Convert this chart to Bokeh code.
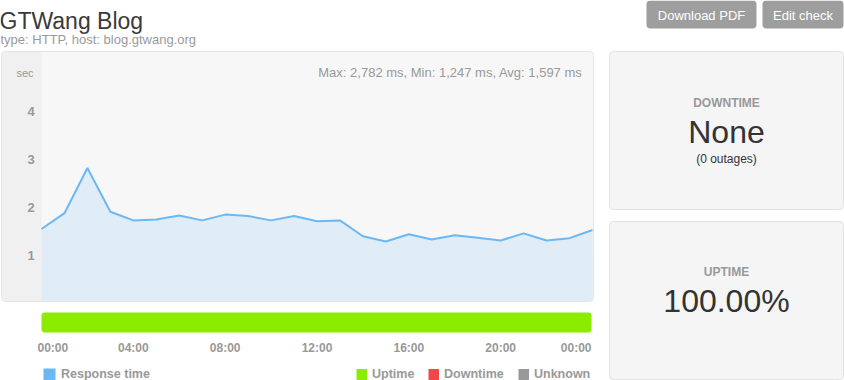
from bokeh.plotting import figure
from bokeh.models import Range1d
from bokeh.core.properties import value
from bokeh.embed import file_html
from bokeh.resources import INLINE

# ---- data ----
hours = list(range(25))
response_sec = [1.51, 1.84, 2.78, 1.87, 1.69, 1.71, 1.79, 1.69, 1.81, 1.78,
                1.69, 1.78, 1.67, 1.69, 1.36, 1.25, 1.40, 1.29, 1.38, 1.33,
                1.27, 1.42, 1.27, 1.32, 1.49]
y_ticks = [1, 2, 3, 4]
x_tick_hours = [0, 4, 8, 12, 16, 20, 24]
x_tick_labels = ["00:00", "04:00", "08:00", "12:00", "16:00", "20:00", "00:00"]
uptime_pct = "100.00%"
downtime_text = "None"
outages = 0
stats_text = "Max: 2,782 ms, Min: 1,247 ms, Avg: 1,597 ms"
title = "GTWang Blog"
subtitle = "type: HTTP, host: blog.gtwang.org"
legend_left = ["Response time"]
legend_right = ["Uptime", "Downtime", "Unknown"]

W, H = 844, 380
FONT = value("Liberation Sans")

# pixel geometry of chart frame
PX0, PX1 = 41.0, 592.0        # hour 0 and hour 24
PY0, PPS = 301.0, 48.0        # pixel y of 0 sec, pixels per second
ppx = (PX1 - PX0) / 24.0

p = figure(width=W, height=H, output_backend="svg", toolbar_location=None,
           x_range=Range1d(0, W), y_range=Range1d(H, 0),
           x_axis_type=None, y_axis_type=None, min_border=0,
           outline_line_color=None, background_fill_color="white",
           border_fill_color="white")
p.grid.visible = False

p.extra_x_ranges = {"hrs": Range1d(-PX0 / ppx, (W - PX0) / ppx)}
p.extra_y_ranges = {"sec": Range1d((PY0 - H) / PPS, PY0 / PPS)}


def txt(x, y, s, size, color, align="left", bold=False, baseline="middle"):
    p.text(x=[x], y=[y], text=[s], text_font=FONT, text_font_size=size,
           text_color=color, text_align=align, text_baseline=baseline,
           text_font_style="bold" if bold else "normal")


# ---- header ----
txt(-1, 20, title, "23px", "#3a3a3a", baseline="alphabetic")
txt(0, 38.5, subtitle, "13px", "#9a9a9a", baseline="alphabetic")
p.quad(left=[646, 762], right=[756, 843], top=[0, 0], bottom=[28, 28],
       fill_color="#9e9e9e", line_color=None, border_radius=4)
txt(701, 14.5, "Download PDF", "13px", "white", align="center")
txt(802.5, 14.5, "Edit check", "13px", "white", align="center")

# ---- chart panel ----
p.quad(left=[1], right=[593], top=[51], bottom=[301], fill_color="#f7f7f7",
       line_color="#e4e4e4", line_width=1, border_radius=4)
p.quad(left=[1.5], right=[41], top=[51.5], bottom=[300.5], fill_color="#f0f0f0",
       line_color=None, border_radius=[4, 0, 0, 4])

p.varea(x=hours, y1=[0] * len(hours), y2=response_sec, fill_color="#e0ecf6",
        x_range_name="hrs", y_range_name="sec")
p.line(x=hours, y=response_sec, line_color="#6cb8f5", line_width=2,
       x_range_name="hrs", y_range_name="sec")

p.text(x=[-0.3] * len(y_ticks), y=y_ticks, text=[str(v) for v in y_ticks],
       text_font=FONT, text_font_size="13px", text_color="#999999",
       text_font_style="bold", text_align="right", text_baseline="middle",
       y_offset=1.5, x_range_name="hrs", y_range_name="sec")
txt(24.5, 72.5, "sec", "11px", "#999999", align="center")
txt(582, 72, stats_text, "13px", "#999999", align="right")

# ---- uptime bar ----
p.quad(left=[PX0], right=[591], top=[312], bottom=[332], fill_color="#8cec00",
       line_color=None, border_radius=3)

# ---- x tick labels ----
mid = slice(1, len(x_tick_hours) - 1)
p.text(x=x_tick_hours[mid], y=[347.5] * 5, text=x_tick_labels[mid],
       text_font=FONT, text_font_size="12px", text_color="#999999",
       text_font_style="bold", text_align="center", text_baseline="middle",
       x_range_name="hrs")
p.text(x=x_tick_hours[:1], y=[347.5], text=x_tick_labels[:1], text_font=FONT,
       text_font_size="12px", text_color="#999999", text_font_style="bold",
       text_align="left", text_baseline="middle", x_offset=-4, x_range_name="hrs")
p.text(x=x_tick_hours[-1:], y=[347.5], text=x_tick_labels[-1:], text_font=FONT,
       text_font_size="12px", text_color="#999999", text_font_style="bold",
       text_align="right", text_baseline="middle", x_offset=-1, x_range_name="hrs")

# ---- legend ----
p.quad(left=[43], right=[55], top=[368], bottom=[380], fill_color="#6cb8f5",
       line_color=None)
txt(60.5, 373, legend_left[0], "12.5px", "#999999", bold=True)
leg_x = [356, 428, 518]
leg_c = ["#8cec00", "#f04848", "#999999"]
for lx, lc, lt in zip(leg_x, leg_c, legend_right):
    p.quad(left=[lx], right=[lx + 10.5], top=[368.5], bottom=[379.5],
           fill_color=lc, line_color=None)
    txt(lx + 15.5, 373, lt, "12.5px", "#999999", bold=True)

# ---- right panels ----
p.quad(left=[609, 609], right=[843, 843], top=[51, 221], bottom=[209, 379],
       fill_color="#f5f5f5", line_color="#e2e2e2", border_radius=4)
txt(726, 102.5, "DOWNTIME", "12px", "#999999", align="center", bold=True)
txt(726, 131, downtime_text, "32px", "#333333", align="center")
txt(726, 158.5, "(%d outages)" % outages, "12px", "#333333", align="center")
txt(726, 271, "UPTIME", "12px", "#999999", align="center", bold=True)
txt(726, 300, uptime_pct, "32px", "#333333", align="center")

open("out.html", "w").write(file_html(p, INLINE))
